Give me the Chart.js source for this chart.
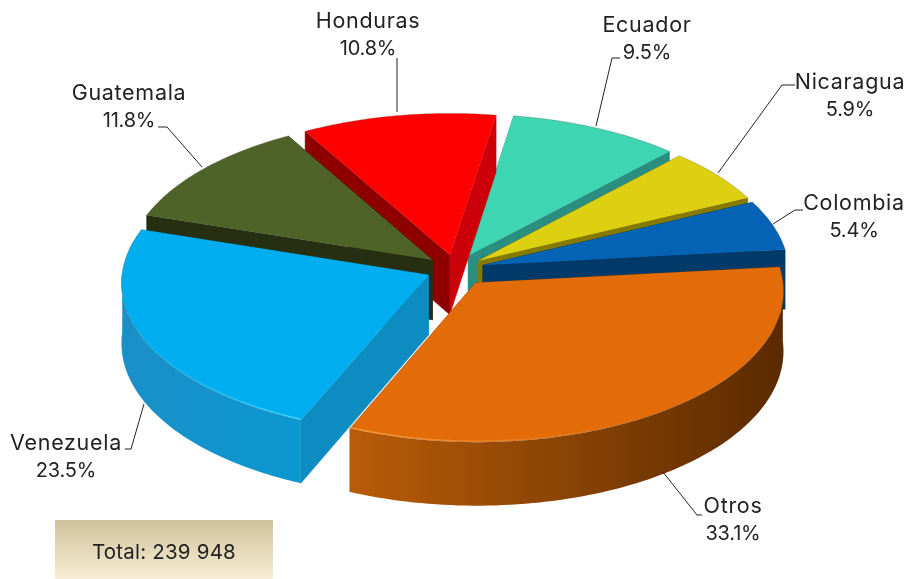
<!DOCTYPE html>
<html><head><meta charset="utf-8">
<style>html,body{margin:0;padding:0;background:#fff}#w{position:relative;width:907px;height:579px}canvas{display:block}</style>
<script src="https://cdn.jsdelivr.net/npm/chart.js@4"></script></head>
<body><div id="w"><canvas id="c" width="907" height="579"></canvas></div>
<script>
const categories=['Otros','Venezuela','Guatemala','Honduras','Ecuador','Nicaragua','Colombia'];
const shares=[33.1,23.5,11.8,10.8,9.5,5.9,5.4];
const totalLabel='Total: 239 948';
const explode=[31,26,26,26,27,26,26];
const topColors=['#E36C09','#00ADEF','#4F6228','#FF0000','#3DD5B2','#DDD010','#0563B5'];
const cutStart=['#8A4306','#0C8CC0','#262F12','#8E0000','#2A8F80','#857A00','#013A68'];
const cutEnd=['#8A4306','#0C8CC0','#262F12','#CC0008','#2A8F80','#857A00','#013A68'];
const wallLeft=['#B85C08','#1A8FC8','#2A3414','#C00000','#2A8F80','#857A00','#013A68'];
const wallRight=['#5A2A00','#0A98D0','#2A3414','#C00000','#2A8F80','#857A00','#013A68'];
const hiColors=['#F59A3C','#35CFFF','#5F7432','#FF3030','#5CE5C5','#EEE040','#2080D0'];
const drawOrder=[4,3,5,2,6,1,0];
const labelCfg=[
 {x:733,y:507,l:[[702,515],[697,515],[663,472]]},
 {x:66,y:444,l:[[125,449],[131,449],[144,404]]},
 {x:129,y:94,l:[[158,127],[167,127],[202,167]]},
 {x:368,y:22,l:[[397,58],[397,112]]},
 {x:647,y:26,l:[[620,58],[612,58],[596,126]]},
 {x:850,y:83,l:[[795,85],[782,85],[718,173]]},
 {x:854,y:204,l:[[803,210],[795,210],[773,224]]}
];
const view={cx:455,cy:269,rx:306,ry:150.1,k:0.05,depth:60};
const FONT='"Inter","Open Sans",sans-serif';

function P(arc,a,down){
  const R=arc.outerRadius, off=arc.options.offset||0, mid=(arc.startAngle+arc.endAngle)/2;
  const u=(off*Math.cos(mid)+(a===null?0:R*Math.cos(a)))/R;
  const v=(off*Math.sin(mid)+(a===null?0:R*Math.sin(a)))/R;
  const w=1-view.k*v;
  return [view.cx+view.rx*u/w, view.cy+view.ry*v/w+(down?view.depth/w:0)];
}
function poly(ctx,pts){ctx.beginPath();pts.forEach((p,i)=>i?ctx.lineTo(p[0],p[1]):ctx.moveTo(p[0],p[1]));ctx.closePath();}
function samples(arc){const n=90,o=[];for(let i=0;i<=n;i++)o.push(arc.startAngle+(arc.endAngle-arc.startAngle)*i/n);return o;}

const pie3d={id:'pie3d',beforeDatasetsDraw(chart){
  const ctx=chart.ctx, arcs=chart.getDatasetMeta(0).data;
  drawOrder.forEach(i=>{
    const arc=arcs[i], as=samples(arc);
    const ap=P(arc,null,false), apD=P(arc,null,true);
    const s=P(arc,arc.startAngle,false), sD=P(arc,arc.startAngle,true);
    const e=P(arc,arc.endAngle,false), eD=P(arc,arc.endAngle,true);
    const cuts=[[s,sD,cutStart[i]],[e,eD,cutEnd[i]]].sort((p,q)=>p[0][1]-q[0][1]);
    cuts.forEach(c=>{ctx.fillStyle=c[2];poly(ctx,[ap,c[0],c[1],apD]);ctx.fill();ctx.strokeStyle=c[2];ctx.lineWidth=.5;ctx.stroke();});
    const front=as.filter(a=>Math.sin(a)>=-0.02);
    if(front.length>1){
      const x0=P(arc,front[front.length-1],false)[0], x1=P(arc,front[0],false)[0];
      const g=ctx.createLinearGradient(x0,0,x1,0);
      const ln=x0<x1;
      g.addColorStop(0,ln?wallLeft[i]:wallRight[i]);g.addColorStop(1,ln?wallRight[i]:wallLeft[i]);
      ctx.fillStyle=g;
      poly(ctx,front.map(a=>P(arc,a,false)).concat(front.slice().reverse().map(a=>P(arc,a,true))));
      ctx.fill();
    }
    ctx.fillStyle=topColors[i];
    poly(ctx,[ap].concat(as.map(a=>P(arc,a,false))));
    ctx.fill();
    ctx.strokeStyle='rgba(90,80,70,.35)';ctx.lineWidth=.8;
    ctx.beginPath();as.forEach((a,j)=>{const p=P(arc,a,false);j?ctx.lineTo(p[0],p[1]):ctx.moveTo(p[0],p[1]);});ctx.stroke();
    if(front.length>1){
      const hg=ctx.createLinearGradient(130,0,640,0);
      hg.addColorStop(0,hiColors[i]+'00');hg.addColorStop(.33,hiColors[i]+'FF');hg.addColorStop(.5,hiColors[i]+'CC');hg.addColorStop(1,hiColors[i]+'00');
      ctx.strokeStyle=hg;ctx.lineWidth=1.6;
      ctx.beginPath();front.forEach((a,j)=>{const p=P(arc,a,false);const y=p[1]-1;j?ctx.lineTo(p[0],y):ctx.moveTo(p[0],y);});ctx.stroke();
    }
  });
  return false;
},
afterDraw(chart){
  const ctx=chart.ctx;
  ctx.save();
  ctx.strokeStyle='#222';ctx.lineWidth=1;
  labelCfg.forEach(c=>{ctx.beginPath();c.l.forEach((p,j)=>j?ctx.lineTo(p[0],p[1]):ctx.moveTo(p[0],p[1]));ctx.stroke();});
  ctx.fillStyle='#222';ctx.textAlign='center';ctx.textBaseline='middle';
  labelCfg.forEach((c,i)=>{
    ctx.font='21.5px '+FONT;ctx.letterSpacing='0.7px';ctx.fillText(categories[i],c.x,c.y);
    ctx.font='20px '+FONT;ctx.letterSpacing='-0.2px';ctx.fillText(shares[i].toFixed(1)+'%',c.x,c.y+27);
  });
  const g=ctx.createLinearGradient(0,520,0,579);g.addColorStop(0,'#CFC19B');g.addColorStop(1,'#F8EED5');
  ctx.fillStyle=g;ctx.fillRect(55,520,218,59);
  ctx.fillStyle='#222';ctx.font='20.5px '+FONT;ctx.letterSpacing='0.2px';ctx.fillText(totalLabel,164,553);
  ctx.restore();
}};
new Chart(document.getElementById('c'),{type:'pie',
 data:{labels:categories,datasets:[{data:shares,backgroundColor:topColors,offset:explode,borderWidth:0}]},
 options:{responsive:false,animation:false,rotation:84,layout:{padding:0},plugins:{legend:{display:false},tooltip:{enabled:false}}},
 plugins:[pie3d]});
</script></body></html>
